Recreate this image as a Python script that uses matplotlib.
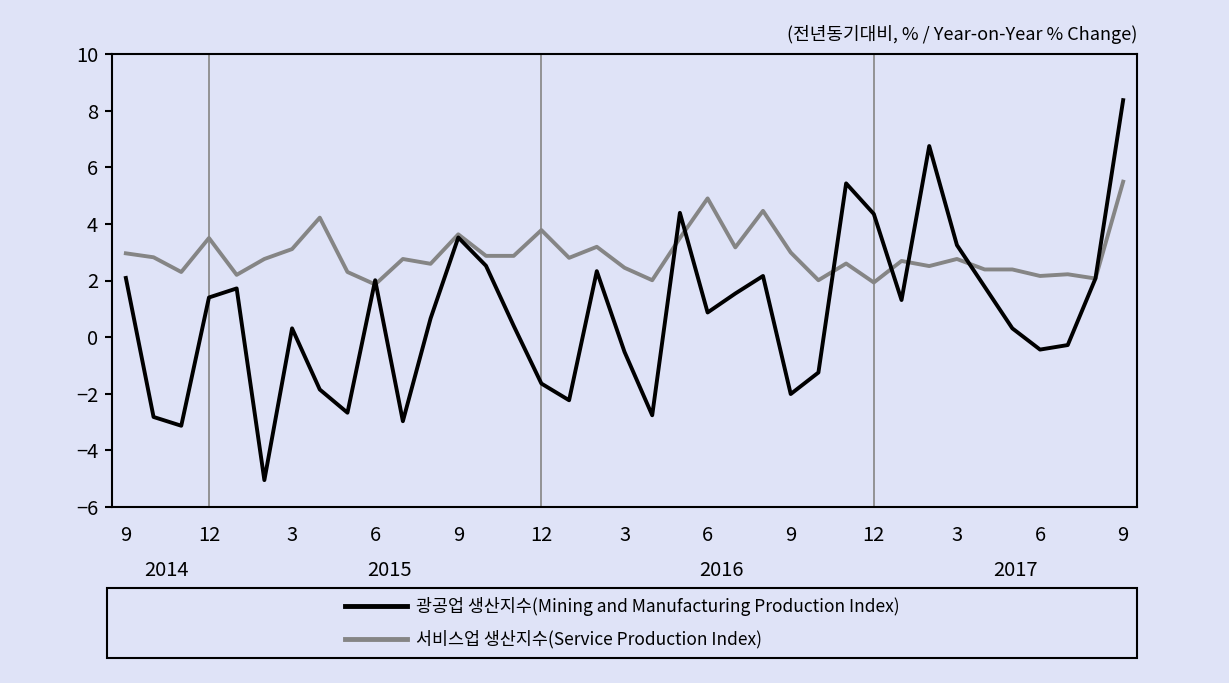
import matplotlib.pyplot as plt
from matplotlib.patches import Rectangle

plt.rcParams['font.family'] = ['Noto Sans CJK KR', 'DejaVu Sans']

# Data: monthly, 2014-09 ... 2017-09
months = list(range(37))
mining = [2.09, -2.82, -3.13, 1.40, 1.72, -5.05, 0.31, -1.85, -2.67, 2.01,
          -2.97, 0.66, 3.52, 2.52, 0.40, -1.64, -2.23, 2.33, -0.52, -2.76,
          4.39, 0.87, 1.54, 2.16, -2.01, -1.25, 5.43, 4.35, 1.31, 6.75,
          3.25, 1.78, 0.31, -0.44, -0.28, 2.07, 8.37]
service = [2.96, 2.82, 2.30, 3.50, 2.20, 2.76, 3.11, 4.22, 2.30, 1.86,
           2.76, 2.59, 3.63, 2.87, 2.87, 3.78, 2.80, 3.19, 2.45, 2.01,
           3.50, 4.90, 3.17, 4.46, 2.99, 2.01, 2.60, 1.93, 2.69, 2.51,
           2.76, 2.39, 2.39, 2.16, 2.22, 2.07, 5.49]
tick_pos = [0, 3, 6, 9, 12, 15, 18, 21, 24, 27, 30, 33, 36]
tick_labels = ['9', '12', '3', '6', '9', '12', '3', '6', '9', '12', '3', '6', '9']
year_pos = [1.45, 9.5, 21.5, 32.1]
year_labels = ['2014', '2015', '2016', '2017']
year_breaks = [3, 15, 27]

bg = '#dfe3f7'
fig = plt.figure(figsize=(12.29, 6.83), dpi=100, facecolor=bg)
ax = fig.add_axes([112 / 1229, 1 - 507 / 683, 1025 / 1229, 453 / 683])
ax.set_facecolor(bg)

for xb in year_breaks:
    ax.axvline(xb, color='#8c8c8c', lw=1.3, zorder=1)

ax.plot(months, mining, color='black', lw=2.8, zorder=3,
        label='광공업 생산지수(Mining and Manufacturing Production Index)')
ax.plot(months, service, color='#858585', lw=2.8, zorder=2,
        label='서비스업 생산지수(Service Production Index)')

ax.set_xlim(-0.5, 36.5)
ax.set_ylim(-6, 10)
ax.set_yticks(range(-6, 11, 2))
ax.set_yticklabels([str(v).replace('-', '\u2212') for v in range(-6, 11, 2)])
ax.set_xticks(tick_pos)
ax.set_xticklabels(tick_labels)
ax.tick_params(axis='x', length=0, pad=13, labelsize=14.5)
ax.tick_params(axis='y', length=5, width=1.5, direction='out', labelsize=14.5, pad=5)
for s in ax.spines.values():
    s.set_linewidth(1.5)
    s.set_color('black')

for xp, yl in zip(year_pos, year_labels):
    ax.text(xp, -64 / 453, yl, transform=ax.get_xaxis_transform(),
            ha='center', va='center', fontsize=14.5)

fig.text(1137 / 1229, 1 - 35 / 683, '(전년동기대비, % / Year-on-Year % Change)',
         ha='right', va='center', fontsize=13)

# legend box
fig.patches.append(Rectangle((107 / 1229, 1 - 658 / 683), 1030 / 1229, 70 / 683,
                             transform=fig.transFigure, fill=False,
                             edgecolor='black', lw=1.5))
leg = fig.legend(loc='center', bbox_to_anchor=(622 / 1229, 1 - 623 / 683),
                 frameon=False, fontsize=12.5, handlelength=3.6, handletextpad=0.5,
                 labelspacing=0.8)
for h in leg.get_lines():
    h.set_linewidth(3.5)

fig.savefig('out.png', dpi=100, facecolor=bg)
